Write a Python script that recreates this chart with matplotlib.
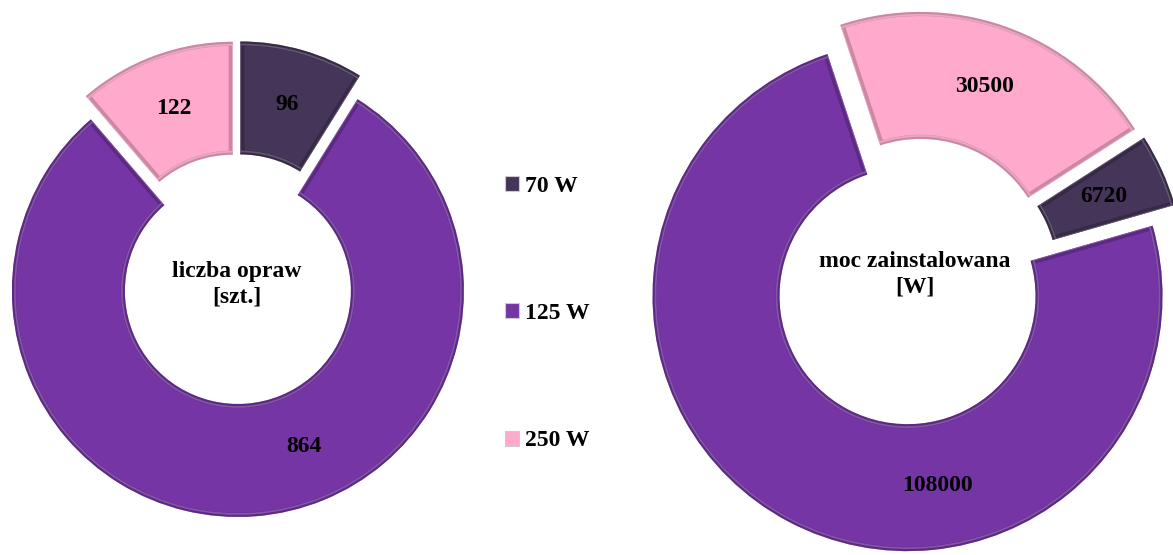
import matplotlib.pyplot as plt
import matplotlib.patches as mpatches
import numpy as np

plt.rcParams["font.family"] = ["Liberation Serif", "DejaVu Serif"]

# data
categories = ["70 W", "125 W", "250 W"]
count_vals = [96, 864, 122]          # liczba opraw [szt.]
power_vals = [6720, 108000, 30500]   # moc zainstalowana [W]
colors = ["#453559", "#7535A5", "#FFAACD"]

fig = plt.figure(figsize=(11.73, 5.55), dpi=100)
ax = fig.add_axes([0, 0, 1, 1])


def donut(vals, center, radius, width, start, expl, big_angle, title, title_y):
    total = sum(vals)
    wedges, _, autotexts = ax.pie(
        vals,
        colors=colors,
        startangle=start,
        counterclock=False,
        radius=radius,
        center=center,
        explode=[expl] * len(vals),
        wedgeprops=dict(width=width, linewidth=0),
        autopct=lambda p: f"{p * total / 100:.0f}",
        pctdistance=1 - width / 2 / radius,
        textprops=dict(fontsize=17, fontweight="bold", color="black"),
    )
    # bevel-ish inner shading
    for w in wedges:
        fc = np.array(w.get_facecolor())
        dark = fc.copy()
        dark[:3] *= 0.55
        light = fc.copy()
        light[:3] = light[:3] + (1 - light[:3]) * 0.35
        band = mpatches.Wedge(w.center, w.r, w.theta1, w.theta2, width=w.width,
                              fill=False, edgecolor=dark, lw=6, alpha=0.45)
        band.set_clip_path(w)
        ax.add_patch(band)
        inner = mpatches.Wedge(w.center, w.r - 3, w.theta1, w.theta2, width=w.width - 6,
                               fill=False, edgecolor=light, lw=1.2, alpha=0.55)
        inner.set_clip_path(w)
        ax.add_patch(inner)
    # big slice label sits lower in the ring
    i = int(np.argmax(vals))
    w = wedges[i]
    r = w.r - w.width / 2
    a = np.deg2rad(big_angle)
    autotexts[i].set_position((w.center[0] + r * np.cos(a), w.center[1] + r * np.sin(a)))
    ax.text(center[0], title_y, title, ha="center", va="center", fontsize=17,
            fontweight="bold", linespacing=1.25)


donut(count_vals, (237, 276), 226, 113, 90, 12, -67, "liczba opraw\n[szt.]", 271)
donut(power_vals, (915, 273), 255, 127, 32.7, 16, -81, "moc zainstalowana\n[W]", 281)

handles = [mpatches.Patch(facecolor=c, edgecolor="#cccccc", linewidth=0.8) for c in colors]
fig.legend(handles, categories, loc="upper left", bbox_to_anchor=(505 / 1173, 1 - 176 / 555),
           frameon=False, borderpad=0, borderaxespad=0, handlelength=0.6, handleheight=0.6,
           handletextpad=0.25, labelspacing=4.5,
           prop=dict(family="Liberation Serif", weight="bold", size=17))

ax.set_xlim(0, 1173)
ax.set_ylim(0, 555)
ax.set_aspect("equal")
ax.axis("off")

fig.savefig("out.png", dpi=100)
